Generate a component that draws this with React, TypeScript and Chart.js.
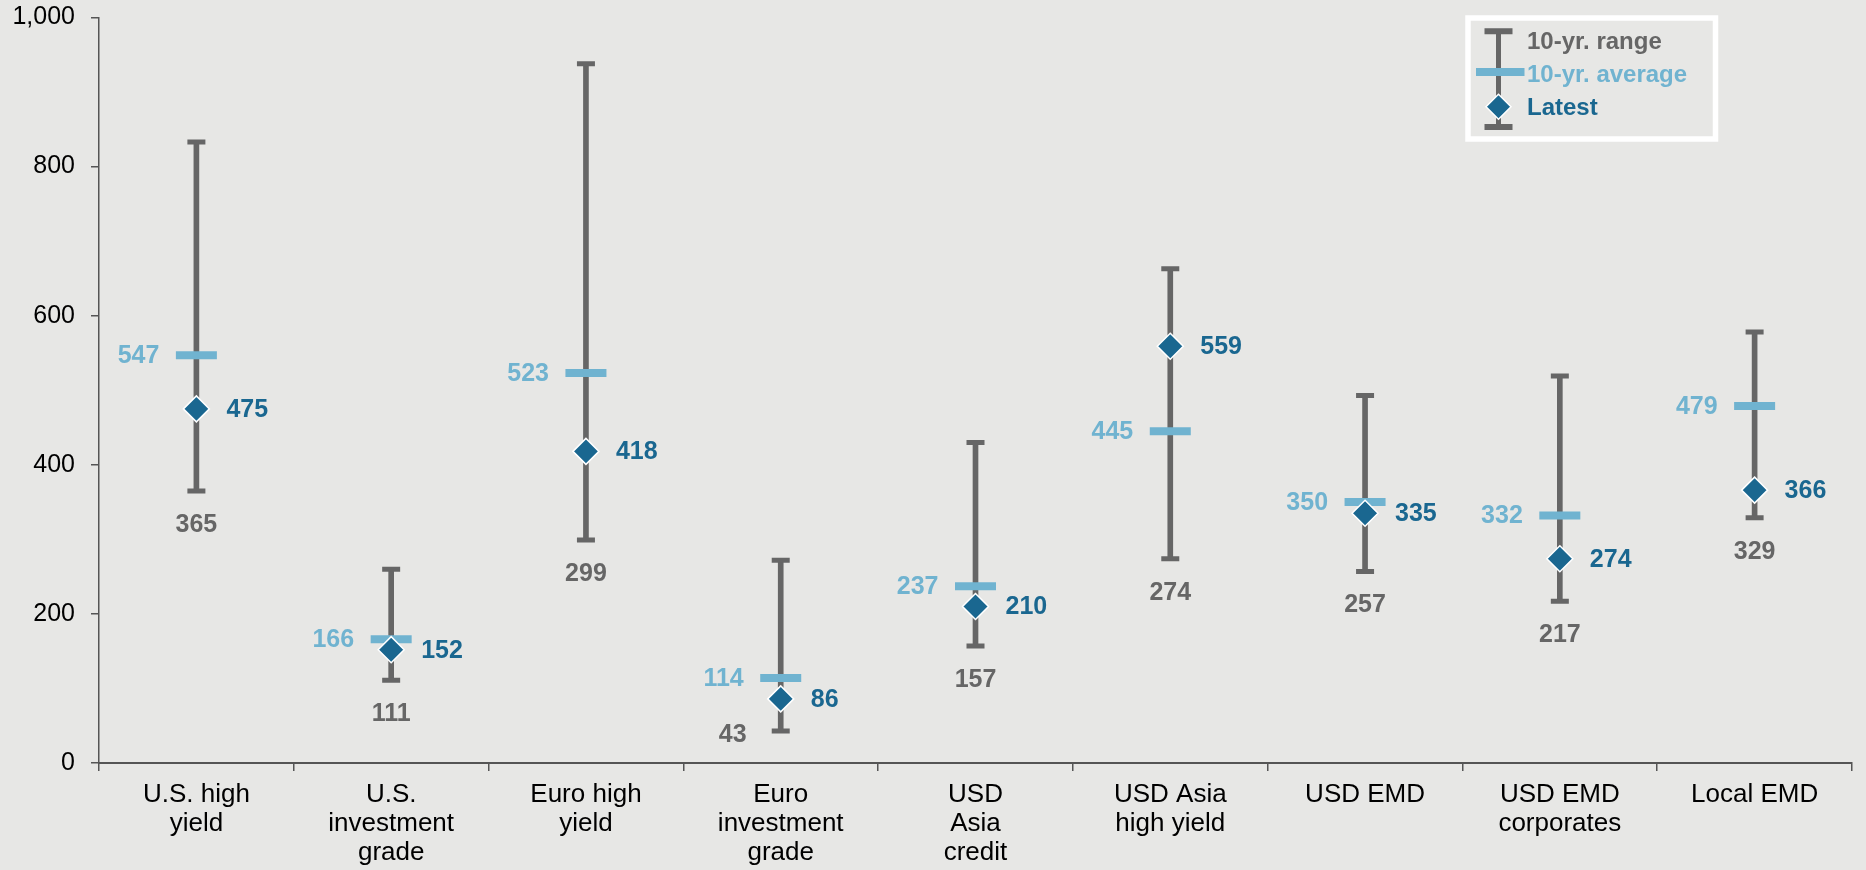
import React, { useEffect, useRef } from "react";
import { Chart, registerables } from "chart.js";

Chart.register(...registerables);

const categories: string[][] = [
  ["U.S. high", "yield"],
  ["U.S.", "investment", "grade"],
  ["Euro high", "yield"],
  ["Euro", "investment", "grade"],
  ["USD", "Asia", "credit"],
  ["USD Asia", "high yield"],
  ["USD EMD"],
  ["USD EMD", "corporates"],
  ["Local EMD"],
];
const rangeLow = [365, 111, 299, 43, 157, 274, 257, 217, 329];
const rangeHigh = [833, 260, 938, 272, 430, 663, 493, 519, 578];
const average = [547, 166, 523, 114, 237, 445, 350, 332, 479];
const latest = [475, 152, 418, 86, 210, 559, 335, 274, 366];
const yTicks = [0, 200, 400, 600, 800, 1000];

const GRAY = "#666666";
const LIGHT = "#70b3d0";
const DARK = "#1a6790";
const BG = "#e7e7e5";
const FONT = "'Liberation Sans', Arial, sans-serif";

const labelPlugin = {
  id: "valueLabels",
  afterDatasetsDraw(chart: any) {
    const ctx = chart.ctx;
    const avgMeta = chart.getDatasetMeta(3);
    const latMeta = chart.getDatasetMeta(4);
    const lowMeta = chart.getDatasetMeta(2);
    const bottom = chart.chartArea.bottom;
    ctx.save();
    ctx.font = `bold 25px ${FONT}`;
    ctx.textBaseline = "middle";
    for (let i = 0; i < categories.length; i++) {
      const a = avgMeta.data[i];
      ctx.fillStyle = LIGHT;
      ctx.textAlign = "right";
      ctx.fillText(String(average[i]), a.x - 37, a.y + 1);
      const l = latMeta.data[i];
      ctx.fillStyle = DARK;
      ctx.textAlign = "left";
      ctx.fillText(String(latest[i]), l.x + 30, l.y + 1);
      const lo = lowMeta.data[i];
      ctx.fillStyle = GRAY;
      ctx.textAlign = "center";
      if (lo.y + 34 > bottom - 16) {
        ctx.fillText(String(rangeLow[i]), lo.x - 48, lo.y + 4);
      } else {
        ctx.fillText(String(rangeLow[i]), lo.x, lo.y + 34);
      }
    }
    ctx.restore();
  },
};

const legendPlugin = {
  id: "customLegend",
  afterDraw(chart: any) {
    const ctx = chart.ctx;
    ctx.save();
    ctx.strokeStyle = "#ffffff";
    ctx.lineWidth = 5.5;
    ctx.strokeRect(1468, 18, 247.5, 121);
    const cx = 1498.5;
    ctx.strokeStyle = GRAY;
    ctx.lineWidth = 5;
    ctx.beginPath();
    ctx.moveTo(cx, 31);
    ctx.lineTo(cx, 127);
    ctx.stroke();
    ctx.lineWidth = 6;
    ctx.beginPath();
    ctx.moveTo(cx - 14, 31.3);
    ctx.lineTo(cx + 14, 31.3);
    ctx.moveTo(cx - 14, 127);
    ctx.lineTo(cx + 14, 127);
    ctx.stroke();
    ctx.strokeStyle = LIGHT;
    ctx.lineWidth = 8;
    ctx.beginPath();
    ctx.moveTo(1476, 72);
    ctx.lineTo(1524.5, 72);
    ctx.stroke();
    ctx.fillStyle = DARK;
    ctx.strokeStyle = "#ffffff";
    ctx.lineWidth = 1.5;
    ctx.beginPath();
    ctx.moveTo(cx, 106.7 - 12.5);
    ctx.lineTo(cx + 12.5, 106.7);
    ctx.lineTo(cx, 106.7 + 12.5);
    ctx.lineTo(cx - 12.5, 106.7);
    ctx.closePath();
    ctx.fill();
    ctx.stroke();
    ctx.font = `bold 24px ${FONT}`;
    ctx.textAlign = "left";
    ctx.textBaseline = "middle";
    ctx.fillStyle = GRAY;
    ctx.fillText("10-yr. range", 1527, 42);
    ctx.fillStyle = LIGHT;
    ctx.fillText("10-yr. average", 1527, 75);
    ctx.fillStyle = DARK;
    ctx.fillText("Latest", 1527, 108);
    ctx.restore();
  },
};

export default function App() {
  const ref = useRef<HTMLCanvasElement | null>(null);
  useEffect(() => {
    if (!ref.current) return;
    const chart = new Chart(ref.current, {
      type: "bar",
      data: {
        labels: categories as any,
        datasets: [
          {
            type: "bar",
            label: "10-yr. range",
            data: rangeLow.map((v, i) => [v, rangeHigh[i]]) as any,
            backgroundColor: GRAY,
            barThickness: 5,
            order: 4,
          },
          {
            type: "line",
            label: "high cap",
            data: rangeHigh,
            showLine: false,
            pointStyle: "line",
            pointRadius: 9,
            pointBorderWidth: 5,
            pointBorderColor: GRAY,
            borderColor: GRAY,
            order: 3,
          },
          {
            type: "line",
            label: "low cap",
            data: rangeLow,
            showLine: false,
            pointStyle: "line",
            pointRadius: 9,
            pointBorderWidth: 5,
            pointBorderColor: GRAY,
            borderColor: GRAY,
            order: 3,
          },
          {
            type: "line",
            label: "10-yr. average",
            data: average,
            showLine: false,
            pointStyle: "line",
            pointRadius: 20.5,
            pointBorderWidth: 8,
            pointBorderColor: LIGHT,
            borderColor: LIGHT,
            order: 2,
          },
          {
            type: "line",
            label: "Latest",
            data: latest,
            showLine: false,
            pointStyle: "rectRot",
            pointRadius: 13,
            pointBackgroundColor: DARK,
            pointBorderColor: "#ffffff",
            pointBorderWidth: 1.5,
            order: 1,
          },
        ] as any,
      },
      options: {
        animation: false,
        responsive: true,
        maintainAspectRatio: false,
        events: [],
        layout: {
          autoPadding: false,
          padding: { left: 0, right: 14, top: 17.5, bottom: 0 },
        },
        plugins: {
          legend: { display: false },
          tooltip: { enabled: false },
        },
        scales: {
          x: {
            type: "category",
            offset: true,
            grid: {
              offset: true,
              drawOnChartArea: false,
              tickLength: 8,
              color: "#555555",
              lineWidth: 1.5,
            },
            border: { color: "#555555", width: 2 },
            ticks: {
              color: "#000000",
              font: { family: FONT, size: 26, lineHeight: 1.1 },
              padding: 10,
              maxRotation: 0,
              autoSkip: false,
            },
            afterFit(scale: any) {
              scale.height = 107;
              scale.paddingLeft = 0;
              scale.paddingRight = 0;
            },
          },
          y: {
            min: 0,
            max: 1000,
            afterBuildTicks(scale: any) {
              scale.ticks = yTicks.map((v) => ({ value: v }));
            },
            grid: {
              drawOnChartArea: false,
              tickLength: 8,
              color: "#555555",
              lineWidth: 1.5,
            },
            border: { color: "#555555", width: 1.5 },
            ticks: {
              color: "#000000",
              font: { family: FONT, size: 25 },
              padding: 16,
              callback: (v: any) => Number(v).toLocaleString("en-US"),
            },
            afterFit(scale: any) {
              scale.width = 99;
              scale.paddingTop = 0;
              scale.paddingBottom = 0;
            },
          },
        },
      } as any,
      plugins: [labelPlugin, legendPlugin],
    });
    return () => chart.destroy();
  }, []);
  return (
    <div
      style={{
        position: "fixed",
        left: 0,
        top: 0,
        width: 1866,
        height: 870,
        background: BG,
      }}
    >
      <canvas ref={ref} />
    </div>
  );
}
